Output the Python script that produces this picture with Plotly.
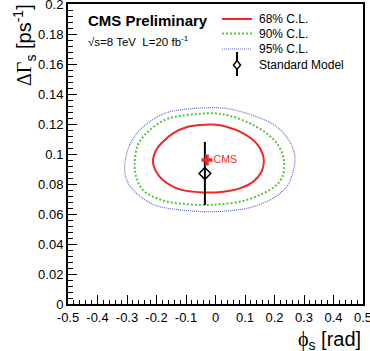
import plotly.graph_objects as go

# ---------------- data ----------------
phi68 = [-0.212, -0.201, -0.178, -0.144, -0.099, -0.054, -0.008, 0.037, 0.094, 0.139, 0.159, 0.164,
         0.156, 0.128, 0.082, 0.026, -0.042, -0.121, -0.178, -0.201, -0.212]
dg68 = [0.0949, 0.1027, 0.1082, 0.1138, 0.1178, 0.1193, 0.1196, 0.1182, 0.1138, 0.1071, 0.1004, 0.0949,
        0.0882, 0.0816, 0.0771, 0.0749, 0.0744, 0.0764, 0.0827, 0.0882, 0.0949]

phi90 = [-0.274, -0.263, -0.229, -0.172, -0.116, -0.003, 0.048, 0.116, 0.173, 0.212, 0.232, 0.229,
         0.207, 0.162, 0.094, 0.014, -0.037, -0.093, -0.172, -0.240, -0.266, -0.274]
dg90 = [0.0927, 0.1060, 0.1149, 0.1227, 0.1255, 0.1271, 0.1255, 0.1205, 0.1138, 0.1060, 0.0960, 0.0860,
        0.0793, 0.0738, 0.0687, 0.0665, 0.0660, 0.0665, 0.0687, 0.0749, 0.0827, 0.0927]

phi95 = [-0.308, -0.291, -0.251, -0.172, -0.093, -0.003, 0.048, 0.139, 0.207, 0.252, 0.269, 0.263,
         0.241, 0.195, 0.116, 0.037, -0.025, -0.116, -0.206, -0.274, -0.301, -0.308]
dg95 = [0.0915, 0.1060, 0.1171, 0.1271, 0.1300, 0.1309, 0.1300, 0.1249, 0.1182, 0.1082, 0.0982, 0.0882,
        0.0782, 0.0705, 0.0642, 0.0620, 0.0615, 0.0627, 0.0660, 0.0749, 0.0827, 0.0915]

sm_phi = [-0.036]
sm_dg = [0.087]
sm_err = [0.021]

cms_phi = [-0.029]
cms_dg = [0.096]

xtick_vals = [-0.5, -0.4, -0.3, -0.2, -0.1, 0.0, 0.1, 0.2, 0.3, 0.4, 0.5]
xtick_text = ["-0.5", "-0.4", "-0.3", "-0.2", "-0.1", "0", "0.1", "0.2", "0.3", "0.4", "0.5"]
ytick_vals = [0, 0.02, 0.04, 0.06, 0.08, 0.1, 0.12, 0.14, 0.16, 0.18, 0.2]
ytick_text = ["0", "0.02", "0.04", "0.06", "0.08", "0.1", "0.12", "0.14", "0.16", "0.18", "0.2"]

legend_labels = ["68% C.L.", "90% C.L.", "95% C.L.", "Standard Model"]

# ---------------- style ----------------
W, H = 370, 351
L, R, T, B = 68, 7, 4, 47
PW, PH = W - L - R, H - T - B
FONT = "Liberation Sans, Arial, Helvetica, sans-serif"
SERIF = "Liberation Serif, Times New Roman, serif"
RED = "#f02828"
GREEN = "#55c43a"
BLUE = "#5a6cd0"
GREEN_DASH = "2px,2px"
BLUE_DASH = "1px,1px"


def px(x):
    return (x - L) / PW


def py(y):
    return (H - B - y) / PH


fig = go.Figure()
fig.add_trace(go.Scatter(x=phi95, y=dg95, mode="lines", line=dict(color=BLUE, width=1.2, dash=BLUE_DASH),
                         line_shape="spline", showlegend=False, hoverinfo="skip"))
fig.add_trace(go.Scatter(x=phi90, y=dg90, mode="lines", line=dict(color=GREEN, width=2, dash=GREEN_DASH),
                         line_shape="spline", showlegend=False, hoverinfo="skip"))
fig.add_trace(go.Scatter(x=phi68, y=dg68, mode="lines", line=dict(color=RED, width=2),
                         line_shape="spline", showlegend=False, hoverinfo="skip"))
fig.add_trace(go.Scatter(x=sm_phi, y=sm_dg, mode="markers",
                         marker=dict(symbol="diamond-open", size=9, color="black", line=dict(width=1.5)),
                         error_y=dict(type="data", array=sm_err, color="black", thickness=2, width=0),
                         showlegend=False, hoverinfo="skip"))
fig.add_trace(go.Scatter(x=cms_phi, y=cms_dg, mode="markers+text", text=["CMS"],
                         textposition="middle right", textfont=dict(color=RED, size=10.5, family=FONT),
                         marker=dict(symbol="cross", size=9, color=RED, line=dict(width=0)),
                         showlegend=False, hoverinfo="skip"))

# ---------------- legend (manual, ROOT-like) ----------------
rows_y = [19, 33.5, 49, 65]
sx0, sx1, tx = 222, 252, 257
shapes = []
shapes.append(dict(type="line", xref="paper", yref="paper", x0=px(sx0), x1=px(sx1), y0=py(rows_y[0]), y1=py(rows_y[0]),
                   line=dict(color=RED, width=2)))
shapes.append(dict(type="line", xref="paper", yref="paper", x0=px(sx0), x1=px(sx1), y0=py(rows_y[1]), y1=py(rows_y[1]),
                   line=dict(color=GREEN, width=2, dash=GREEN_DASH)))
shapes.append(dict(type="line", xref="paper", yref="paper", x0=px(sx0), x1=px(sx1), y0=py(rows_y[2]), y1=py(rows_y[2]),
                   line=dict(color=BLUE, width=1.2, dash=BLUE_DASH)))
cx = (sx0 + sx1) / 2
shapes.append(dict(type="line", xref="paper", yref="paper", x0=px(cx), x1=px(cx), y0=py(rows_y[3] - 13), y1=py(rows_y[3] + 11),
                   line=dict(color="black", width=2)))
shapes.append(dict(type="path", xref="paper", yref="paper",
                   path="M {a},{b} L {c},{d} L {a},{e} L {f},{d} Z".format(
                       a=px(cx), b=py(rows_y[3] - 4.5), c=px(cx + 3.5), d=py(rows_y[3]), e=py(rows_y[3] + 4.5), f=px(cx - 3.5)),
                   fillcolor="white", line=dict(color="black", width=1.5)))

annotations = []
for lab, yy in zip(legend_labels, rows_y):
    annotations.append(dict(text=lab, xref="paper", yref="paper", x=px(tx), y=py(yy), xanchor="left", yanchor="middle",
                            showarrow=False, font=dict(family=FONT, size=12, color="black")))

annotations.append(dict(text="<b>CMS Preliminary</b>", xref="paper", yref="paper", x=px(86), y=py(20),
                        xanchor="left", yanchor="middle", showarrow=False, font=dict(family=FONT, size=15, color="black")))
annotations.append(dict(text="√s=8 TeV  L=20 fb<sup>-1</sup>", xref="paper", yref="paper", x=px(86), y=py(41),
                        xanchor="left", yanchor="middle", showarrow=False, font=dict(family=FONT, size=11.5, color="black")))
# axis titles (right/top aligned like ROOT)
annotations.append(dict(text="<span style='font-family:%s'>ϕ</span><sub>s</sub> [rad]" % SERIF,
                        xref="paper", yref="paper", x=px(363), y=py(326),
                        xanchor="right", yanchor="top", showarrow=False, font=dict(family=FONT, size=20, color="black")))
annotations.append(dict(text="<span style='font-family:%s'>ΔΓ</span><sub>s</sub> [ps<sup>-1</sup>]" % SERIF,
                        xref="paper", yref="paper", x=px(24), y=py(2),
                        xanchor="center", yanchor="top", textangle=-90, showarrow=False,
                        font=dict(family=FONT, size=20, color="black")))

axis_common = dict(showgrid=False, zeroline=False, showline=True, linecolor="black", linewidth=2, mirror=True,
                   ticks="inside", ticklen=9, tickwidth=1, tickcolor="black", automargin=False,
                   ticklabeloverflow="allow",
                   tickfont=dict(family=FONT, size=13, color="black"), tickmode="array")

fig.update_layout(
    width=W, height=H, margin=dict(l=L, r=R, t=T, b=B),
    paper_bgcolor="white", plot_bgcolor="white", showlegend=False,
    xaxis=dict(range=[-0.5, 0.5], tickvals=xtick_vals, ticktext=xtick_text,
               minor=dict(ticks="inside", ticklen=4.5, dtick=0.02, tick0=0, tickcolor="black", tickwidth=1),
               **axis_common),
    yaxis=dict(range=[0, 0.2], tickvals=ytick_vals, ticktext=ytick_text,
               minor=dict(ticks="inside", ticklen=4.5, dtick=0.004, tick0=0, tickcolor="black", tickwidth=1),
               **axis_common),
    shapes=shapes, annotations=annotations,
)

fig.write_html("out.html", config={"displayModeBar": False, "staticPlot": True},
               post_script="document.body.style.margin='0';document.body.style.overflow='hidden';")
